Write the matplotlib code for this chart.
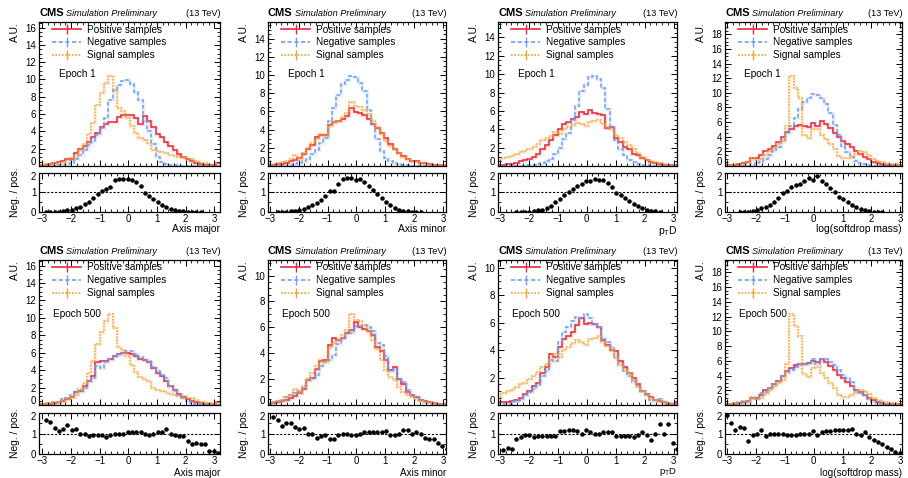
import numpy as np
import matplotlib
matplotlib.use('Agg')
import matplotlib.pyplot as plt
from matplotlib.lines import Line2D
from matplotlib.ticker import MultipleLocator, FuncFormatter
from matplotlib.transforms import offset_copy

plt.rcParams['font.family'] = ['Liberation Sans', 'DejaVu Sans']
plt.rcParams['mathtext.fontset'] = 'custom'
plt.rcParams['mathtext.rm'] = 'Liberation Sans'
plt.rcParams['mathtext.it'] = 'Liberation Sans:italic'

nan = np.nan
bin_edges = np.linspace(-3.1, 3.2, 43)

# ---- Epoch 1 ----
pos_major_e1 = [0.1, 0.15, 0.2, 0.3, 0.45, 0.6, 0.8, 0.85, 1.5, 2.0,
                2.3, 2.8, 3.3, 3.8, 4.5, 4.9, 5.1, 5.1, 5.7, 5.9,
                5.9, 5.9, 5.5, 4.8, 5.8, 5.2, 4.5, 3.7, 3.3, 2.8,
                2.3, 1.8, 1.4, 1.0, 0.8, 0.55, 0.35, 0.25, 0.15, 0.12,
                0.1, 0.4]
neg_major_e1 = [0.0, 0.0, 0.02, 0.05, 0.1, 0.15, 0.25, 0.4, 0.8, 1.3,
                1.9, 2.4, 2.9, 3.6, 4.4, 5.5, 7.6, 8.8, 9.4, 9.8,
                9.9, 9.5, 8.6, 7.6, 5.2, 4.0, 2.5, 1.0, 0.45, 0.25,
                0.15, 0.08, 0.05, 0.04, 0.03, 0.02, 0.02, 0.01, 0.01, 0.01,
                0.01, 0.01]
sig_major = [0.15, 0.2, 0.25, 0.3, 0.4, 0.5, 0.7, 0.9, 1.2, 1.8,
             2.5, 3.7, 5.0, 7.0, 8.4, 9.6, 10.4, 8.8, 6.7, 6.3,
             5.6, 4.6, 3.8, 3.2, 3.0, 2.7, 1.9, 1.7, 1.6, 1.5,
             1.3, 1.1, 1.05, 1.0, 0.85, 0.8, 0.6, 0.4, 0.3, 0.2,
             0.15, 0.3]
ratio_major_e1 = [nan, 0.0, 0.0, 0.0, 0.02, 0.05, 0.1, 0.1, 0.2, 0.25,
                  0.4, 0.5, 0.7, 0.9, 1.1, 1.2, 1.3, 1.65, 1.7, 1.7,
                  1.7, 1.65, 1.55, 1.35, 0.95, 0.8, 0.65, 0.5, 0.35, 0.25,
                  0.15, 0.1, 0.05, 0.03, 0.02, 0.01, 0.01, 0.01, nan, nan,
                  nan, nan]

pos_minor_e1 = [0.1, 0.15, 0.2, 0.25, 0.35, 0.5, 0.7, 0.9, 1.3, 1.9,
                2.3, 3.2, 3.4, 3.4, 4.5, 4.8, 5.0, 5.2, 5.5, 6.4,
                5.9, 5.8, 5.6, 5.2, 4.6, 4.2, 3.6, 3.1, 2.4, 1.9,
                1.4, 1.1, 0.8, 0.6, 0.5, 0.35, 0.3, 0.2, 0.15, 0.1,
                0.08, 0.05]
neg_minor_e1 = [0.0, 0.0, 0.0, 0.02, 0.05, 0.1, 0.2, 0.35, 0.5, 0.8,
                1.3, 1.8, 2.5, 3.1, 5.0, 6.4, 7.8, 9.0, 9.5, 9.9,
                9.8, 9.1, 8.2, 6.2, 4.6, 3.0, 1.7, 0.9, 0.5, 0.3,
                0.2, 0.1, 0.06, 0.03, 0.02, 0.01, 0.01, 0.0, 0.0, 0.0,
                0.0, 0.0]
sig_minor = [0.2, 0.25, 0.3, 0.4, 0.6, 0.8, 1.2, 0.9, 1.4, 2.0,
             2.5, 3.0, 3.5, 3.3, 4.4, 4.8, 5.0, 5.4, 5.8, 7.0,
             6.6, 6.5, 6.2, 5.7, 5.0, 4.3, 3.5, 2.7, 2.2, 1.9,
             1.4, 1.0, 0.8, 0.6, 0.4, 0.3, 0.25, 0.2, 0.15, 0.1,
             0.1, 0.05]
ratio_minor_e1 = [nan, nan, 0.0, 0.0, 0.02, 0.03, 0.05, 0.1, 0.15, 0.25,
                  0.35, 0.45, 0.6, 0.8, 1.1, 1.1, 1.45, 1.7, 1.75, 1.75,
                  1.65, 1.7, 1.55, 1.35, 1.15, 0.9, 0.7, 0.5, 0.35, 0.2,
                  0.12, 0.07, 0.04, 0.02, 0.01, 0.01, nan, nan, nan, nan,
                  nan, nan]

pos_ptd_e1 = [0.1, 0.15, 0.2, 0.2, 0.35, 0.5, 0.7, 0.8, 1.0, 1.3,
              1.9, 2.3, 2.8, 3.4, 4.0, 4.6, 4.8, 5.1, 5.3, 5.9,
              5.7, 6.1, 5.8, 5.7, 5.5, 4.1, 4.3, 3.0, 2.6, 2.1,
              1.8, 1.3, 1.2, 0.9, 0.6, 0.45, 0.3, 0.2, 0.15, 0.1,
              0.1, 0.1]
neg_ptd_e1 = [0.0, 0.0, 0.0, 0.0, 0.02, 0.03, 0.05, 0.08, 0.1, 0.2,
              0.3, 0.5, 0.8, 1.3, 2.0, 2.9, 3.6, 5.0, 6.5, 8.2,
              8.8, 9.7, 9.8, 9.5, 8.5, 6.2, 4.3, 2.8, 1.8, 1.2,
              0.7, 0.4, 0.25, 0.12, 0.06, 0.03, 0.02, 0.01, 0.0, 0.0,
              0.0, 0.0]
sig_ptd = [0.6, 0.9, 1.0, 1.1, 1.3, 1.5, 1.6, 1.9, 2.1, 2.4,
           2.8, 3.0, 3.3, 3.7, 3.5, 4.0, 4.2, 4.5, 4.7, 4.6,
           4.4, 4.8, 4.9, 5.0, 4.6, 4.3, 4.0, 3.4, 3.0, 2.6,
           2.3, 1.8, 1.4, 1.0, 0.7, 0.5, 0.4, 0.3, 0.2, 0.15,
           0.1, 0.1]
ratio_ptd_e1 = [nan, nan, nan, nan, 0.0, 0.0, 0.01, 0.02, 0.05, 0.08,
                0.12, 0.2, 0.3, 0.5, 0.65, 0.85, 1.05, 1.2, 1.35, 1.45,
                1.6, 1.6, 1.7, 1.65, 1.65, 1.5, 1.3, 0.95, 0.85, 0.7,
                0.55, 0.4, 0.3, 0.2, 0.12, 0.06, 0.03, 0.01, nan, nan,
                nan, nan]

pos_sdm_e1 = [0.1, 0.15, 0.2, 0.3, 0.35, 0.6, 1.1, 1.1, 1.5, 2.0,
              2.3, 2.8, 3.3, 3.9, 4.6, 5.0, 5.4, 5.6, 5.5, 5.3,
              5.9, 5.4, 6.2, 5.8, 5.2, 4.5, 4.0, 3.4, 3.0, 2.6,
              2.0, 1.6, 1.2, 0.9, 0.6, 0.45, 0.3, 0.2, 0.15, 0.1,
              0.1, 0.1]
neg_sdm_e1 = [0.0, 0.0, 0.0, 0.0, 0.02, 0.05, 0.2, 0.35, 0.6, 1.0,
              1.5, 2.0, 2.6, 3.5, 4.5, 5.5, 6.6, 7.8, 8.7, 9.3,
              9.8, 9.7, 9.3, 8.5, 7.2, 5.6, 4.2, 2.8, 1.9, 1.2,
              0.7, 0.4, 0.25, 0.12, 0.06, 0.03, 0.02, 0.01, 0.0, 0.0,
              0.0, 0.0]
sig_sdm = [0.2, 0.2, 0.25, 0.3, 0.3, 0.5, 1.1, 0.8, 0.9, 1.5,
           2.0, 2.4, 3.0, 3.4, 5.5, 12.3, 10.7, 9.3, 4.2, 3.8,
           5.0, 5.1, 4.3, 3.7, 3.0, 2.3, 1.3, 1.1, 1.1, 1.3,
           1.7, 2.0, 1.9, 1.5, 1.0, 0.7, 0.5, 0.35, 0.3, 0.3,
           0.2, 0.2]
ratio_sdm_e1 = [nan, nan, nan, 0.0, 0.0, 0.01, 0.05, 0.12, 0.2, 0.25,
                0.35, 0.5, 0.7, 0.95, 1.1, 1.3, 1.4, 1.45, 1.6, 1.75,
                1.65, 1.85, 1.6, 1.45, 1.25, 1.0, 0.75, 0.65, 0.5, 0.35,
                0.25, 0.15, 0.1, 0.05, 0.02, 0.01, 0.01, nan, nan, nan,
                nan, nan]

# ---- Epoch 500 ----
pos_major_e500 = [0.1, 0.1, 0.15, 0.25, 0.35, 0.5, 0.7, 0.9, 1.5, 1.6,
                  2.2, 2.8, 3.3, 4.9, 5.0, 5.1, 5.3, 5.6, 5.8, 6.0,
                  6.0, 5.9, 5.6, 5.3, 5.2, 4.9, 4.2, 3.7, 3.3, 2.7,
                  2.2, 1.7, 1.3, 0.9, 0.7, 0.5, 0.3, 0.2, 0.12, 0.1,
                  0.1, 0.3]
neg_major_e500 = [0.15, 0.15, 0.2, 0.3, 0.4, 0.7, 0.8, 1.1, 1.5, 1.6,
                  2.0, 2.7, 3.1, 4.5, 4.3, 4.9, 5.3, 5.6, 5.8, 6.0,
                  6.2, 6.2, 5.9, 5.5, 5.2, 5.0, 4.4, 3.9, 3.4, 3.1,
                  2.2, 1.6, 1.2, 0.8, 0.45, 0.25, 0.17, 0.1, 0.06, 0.02,
                  0.02, 0.02]
ratio_major_e500 = [nan, 1.65, 1.55, 1.25, 1.1, 1.2, 1.4, 1.15, 1.2, 1.0,
                    1.0, 0.9, 0.95, 0.95, 0.95, 0.85, 0.95, 1.0, 1.0, 1.0,
                    1.05, 1.05, 1.05, 1.05, 1.0, 0.95, 1.0, 1.05, 1.05, 1.2,
                    1.0, 0.95, 0.9, 0.9, 0.65, 0.5, 0.55, 0.5, 0.5, 0.15,
                    0.15, 0.05]

pos_minor_e500 = [0.1, 0.15, 0.2, 0.3, 0.4, 0.55, 0.7, 0.9, 1.2, 1.9,
                  2.1, 2.8, 3.4, 3.5, 4.6, 5.2, 5.0, 5.2, 5.6, 5.8,
                  6.4, 6.0, 5.9, 5.7, 5.4, 4.5, 4.2, 3.5, 2.7, 2.9,
                  2.0, 1.6, 1.0, 0.8, 0.6, 0.4, 0.3, 0.2, 0.15, 0.1,
                  0.08, 0.05]
neg_minor_e500 = [0.1, 0.25, 0.3, 0.4, 0.6, 0.8, 0.9, 1.1, 1.5, 1.9,
                  2.1, 2.3, 3.0, 3.3, 3.5, 3.9, 4.7, 5.2, 5.6, 5.6,
                  6.1, 6.1, 6.2, 6.0, 5.7, 4.8, 4.6, 3.8, 2.6, 2.8,
                  2.0, 1.8, 1.15, 0.8, 0.6, 0.4, 0.25, 0.15, 0.1, 0.05,
                  0.03, 0.02]
ratio_minor_e500 = [nan, 1.8, 1.65, 1.35, 1.5, 1.5, 1.3, 1.2, 1.25, 1.0,
                    1.0, 0.8, 0.9, 0.95, 0.75, 0.75, 0.95, 1.0, 1.0, 0.95,
                    0.95, 1.0, 1.05, 1.05, 1.05, 1.05, 1.05, 1.1, 0.95, 0.95,
                    1.0, 1.15, 1.15, 1.0, 1.05, 1.0, 0.8, 0.75, 0.75, 0.55,
                    0.4, 0.25]

pos_ptd_e500 = [0.2, 0.25, 0.25, 0.3, 0.4, 0.5, 0.8, 1.0, 1.4, 1.6,
                2.3, 2.8, 3.7, 3.5, 4.2, 4.8, 5.0, 5.3, 5.8, 6.3,
                5.9, 6.0, 5.9, 5.7, 4.7, 4.4, 4.0, 3.9, 3.2, 2.8,
                2.3, 2.0, 1.5, 1.0, 0.8, 0.6, 0.4, 0.3, 0.2, 0.1,
                0.1, 0.2]
neg_ptd_e500 = [0.05, 0.05, 0.08, 0.08, 0.3, 0.4, 0.75, 0.95, 1.2, 1.45,
                2.1, 2.5, 3.3, 3.2, 4.6, 5.3, 5.7, 6.1, 6.4, 6.3,
                6.6, 6.3, 5.9, 5.7, 4.9, 4.6, 4.2, 3.5, 2.9, 2.5,
                2.1, 1.7, 1.4, 1.05, 0.75, 0.4, 0.4, 0.45, 0.2, 0.15,
                0.05, 0.05]
ratio_ptd_e500 = [nan, 0.2, 0.3, 0.25, 0.75, 0.85, 0.95, 0.95, 0.85, 0.9,
                  0.9, 0.9, 0.9, 0.9, 1.1, 1.1, 1.15, 1.15, 1.1, 1.0,
                  1.15, 1.05, 1.0, 1.0, 1.05, 1.05, 1.05, 0.9, 0.9, 0.9,
                  0.9, 0.85, 0.95, 1.05, 0.95, 0.7, 1.0, 1.45, 1.0, 1.45,
                  0.55, 0.25]

pos_sdm_e500 = [0.1, 0.15, 0.2, 0.3, 0.4, 0.6, 1.0, 1.0, 1.4, 2.0,
                2.3, 2.9, 3.3, 3.9, 4.6, 5.0, 5.4, 5.6, 5.5, 5.7,
                6.0, 5.8, 6.3, 5.9, 5.3, 4.7, 4.1, 3.6, 3.1, 2.6,
                2.1, 1.7, 1.3, 0.95, 0.65, 0.45, 0.3, 0.2, 0.15, 0.1,
                0.1, 0.1]
neg_sdm_e500 = [0.2, 0.2, 0.25, 0.35, 0.5, 0.4, 0.95, 1.0, 1.6, 1.8,
                2.3, 2.9, 3.3, 3.9, 4.4, 4.8, 5.1, 5.6, 5.5, 5.7,
                6.2, 5.6, 6.2, 6.2, 5.8, 5.4, 4.7, 4.1, 3.6, 3.1,
                2.1, 1.6, 1.35, 0.8, 0.45, 0.27, 0.15, 0.07, 0.04, 0.01,
                0.005, 0.005]
ratio_sdm_e500 = [1.9, 1.5, 1.15, 1.3, 1.25, 0.65, 0.95, 1.0, 1.15, 0.9,
                  1.0, 1.0, 1.0, 1.0, 0.95, 0.95, 0.95, 1.0, 1.0, 1.0,
                  1.1, 0.95, 1.05, 1.1, 1.1, 1.15, 1.15, 1.15, 1.15, 1.2,
                  1.0, 0.95, 1.05, 0.85, 0.7, 0.6, 0.5, 0.35, 0.25, 0.1,
                  0.05, 0.05]

xlabels = ['Axis major', 'Axis minor', r'$\mathrm{p}_{\mathrm{T}}\mathrm{D}$', 'log(softdrop mass)']
epochs = ['Epoch 1', 'Epoch 500']
legend_labels = ['Positive samples', 'Negative samples', 'Signal samples']

RED = '#e8283c'
BLUE = '#6f9ef2'
ORANGE = '#f5a030'

W, H = 908, 478
fig = plt.figure(figsize=(W / 100, H / 100), dpi=100)


def px_axes(l, t, r, b):
    return fig.add_axes([l / W, 1 - b / H, (r - l) / W, (b - t) / H])


col_x = [(39, 220), (268, 446), (498, 677), (725, 902)]
xlims = [(-3.12, 3.2), (-3.06, 3.1), (-3.06, 3.12), (-3.08, 3.06)]
# bottom row has little room under the tick labels, so the pT D label there is a bit smaller
rows = [dict(main=(22, 166), ratio=(173, 212), xlab=(224, 'top'),
             xsize=[7.4, 7.4, 7.4, 7.4], epoch=(0.11, 0.64)),
        dict(main=(260, 405), ratio=(413, 454), xlab=(477.5, 'bottom'),
             xsize=[7.1, 7.1, 6.8, 7.1], epoch=(0.08, 0.63))]

data = [
    [(pos_major_e1, neg_major_e1, sig_major, ratio_major_e1),
     (pos_minor_e1, neg_minor_e1, sig_minor, ratio_minor_e1),
     (pos_ptd_e1, neg_ptd_e1, sig_ptd, ratio_ptd_e1),
     (pos_sdm_e1, neg_sdm_e1, sig_sdm, ratio_sdm_e1)],
    [(pos_major_e500, neg_major_e500, sig_major, ratio_major_e500),
     (pos_minor_e500, neg_minor_e500, sig_minor, ratio_minor_e500),
     (pos_ptd_e500, neg_ptd_e500, sig_ptd, ratio_ptd_e500),
     (pos_sdm_e500, neg_sdm_e500, sig_sdm, ratio_sdm_e500)],
]

centers = 0.5 * (bin_edges[1:] + bin_edges[:-1])
styles = [dict(color=RED, ls='-'),
          dict(color=BLUE, ls=(0, (2.5, 1.5))),
          dict(color=ORANGE, ls=(0, (1, 1)))]


def style_ticks(ax):
    ax.tick_params(which='both', direction='in', top=True, right=True,
                   labelsize=7, pad=2)
    ax.tick_params(which='major', length=4, width=0.7)
    ax.tick_params(which='minor', length=2, width=0.6)
    for s in ax.spines.values():
        s.set_linewidth(0.9)


def skip_label(value):
    # one tick label is drawn by hand so it can be nudged off the shared edge
    return FuncFormatter(lambda v, p: '' if abs(v - value) < 1e-6 else '%g' % v)


for r, row in enumerate(rows):
    for c, (l, rr) in enumerate(col_x):
        pos, neg, sig, ratio = data[r][c]
        ax = px_axes(l, row['main'][0], rr, row['main'][1])
        for vals, st in zip((pos, neg, sig), styles):
            ax.stairs(vals, bin_edges, baseline=None, color=st['color'],
                      lw=2.4, alpha=0.16)
            ax.stairs(vals, bin_edges, baseline=None, color=st['color'],
                      ls=st['ls'], lw=1.1)
        ymax = 1.6 * max(max(pos), max(neg), max(sig))
        ax.set_ylim(0, ymax)
        ax.set_xlim(*xlims[c])
        ax.xaxis.set_major_locator(MultipleLocator(1))
        ax.xaxis.set_minor_locator(MultipleLocator(0.2))
        ax.yaxis.set_major_locator(MultipleLocator(2))
        ax.yaxis.set_minor_locator(MultipleLocator(0.5))
        ax.yaxis.set_major_formatter(skip_label(0))
        ax.tick_params(labelbottom=False)
        style_ticks(ax)
        ax.text(0, 0, '0', fontsize=7, ha='right', va='bottom',
                transform=offset_copy(ax.transAxes, fig=fig, x=-3, y=-1, units='dots'))

        handles = [Line2D([], [], color=st['color'], ls=st['ls'], lw=1.2,
                          marker='|', ms=7, mew=1.0) for st in styles]
        ax.legend(handles, legend_labels, loc='upper left',
                  bbox_to_anchor=(0.06, 1.0), frameon=False, fontsize=7.2,
                  handlelength=2.9, handletextpad=0.6, labelspacing=0.28,
                  borderpad=0.15, borderaxespad=0.1, numpoints=1)
        ax.text(row['epoch'][0], row['epoch'][1], epochs[r], fontsize=7.2,
                transform=ax.transAxes, va='center', ha='left')

        ax.text(0.0, 1.025, 'CMS', fontsize=8, fontweight='bold',
                transform=ax.transAxes, va='bottom', ha='left')
        ax.text(0.0, 1.025, 'Simulation Preliminary', fontsize=6.6,
                style='italic', va='bottom', ha='left',
                transform=offset_copy(ax.transAxes, fig=fig, x=27, y=0, units='dots'))
        ax.text(1.0, 1.025, '(13 TeV)', fontsize=6.6, transform=ax.transAxes,
                va='bottom', ha='right')

        axr = px_axes(l, row['ratio'][0], rr, row['ratio'][1])
        axr.axhline(1.0, color='black', ls=(0, (2, 1.5)), lw=0.8)
        axr.errorbar(centers, ratio, xerr=0.075, yerr=0.05, fmt='o', ms=2.2,
                     mfc='black', mec='black', ecolor=BLUE, elinewidth=0.9,
                     capsize=0, ls='none')
        axr.set_xlim(*xlims[c])
        axr.set_ylim(0, 2)
        axr.xaxis.set_major_locator(MultipleLocator(1))
        axr.xaxis.set_minor_locator(MultipleLocator(0.2))
        axr.yaxis.set_major_locator(MultipleLocator(1))
        axr.yaxis.set_minor_locator(MultipleLocator(0.5))
        axr.yaxis.set_major_formatter(skip_label(2))
        style_ticks(axr)
        axr.tick_params(axis='x', pad=1.2)
        axr.text(0, 1, '2', fontsize=7, ha='right', va='top',
                 transform=offset_copy(axr.transAxes, fig=fig, x=-3, y=1, units='dots'))

        fig.text((l - 24) / W, 1 - row['main'][0] / H, 'A.U.', rotation=90,
                 fontsize=7.4, ha='center', va='top')
        fig.text((l - 24) / W, 1 - 0.5 * (row['ratio'][0] + row['ratio'][1]) / H,
                 'Neg. / pos.', rotation=90, fontsize=7.4, ha='center', va='center')
        fig.text(rr / W, 1 - row['xlab'][0] / H, xlabels[c], fontsize=row['xsize'][c],
                 ha='right', va=row['xlab'][1])

fig.savefig('out.png', dpi=100)
